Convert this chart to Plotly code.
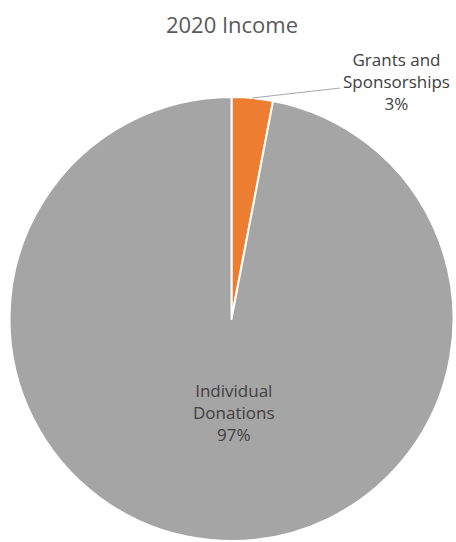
import math
import plotly.graph_objects as go

categories = ["Grants and Sponsorships", "Individual Donations"]
display_labels = ["Grants and<br>Sponsorships", "Individual<br>Donations"]
values = [3, 97]
colors = ["#ED7D31", "#A5A5A5"]

W, H = 456, 542
FONT = "Open Sans, Liberation Sans, sans-serif"
LABEL_COLOR = "#404040"

# pie geometry (paper fractions)
dom_x = [8 / W, 455 / W]
dom_y = [1 - 541 / H, 1 - 97 / H]
cx_px = (dom_x[0] + dom_x[1]) / 2 * W
cy_px = (1 - (dom_y[0] + dom_y[1]) / 2) * H
r_px = min((dom_x[1] - dom_x[0]) * W, (dom_y[1] - dom_y[0]) * H) / 2

fig = go.Figure(go.Pie(
    labels=categories,
    values=values,
    sort=False,
    direction="clockwise",
    rotation=0,
    marker=dict(colors=colors, line=dict(color="white", width=2)),
    textinfo="none",
    domain=dict(x=dom_x, y=dom_y),
    hoverinfo="label+percent",
    showlegend=False,
))

total = sum(values)
pcts = [round(v / total * 100) for v in values]

# outside label for the small slice with a leader line
mid_frac = values[0] / 2 / total
ang = 2 * math.pi * mid_frac
px0 = cx_px + r_px * math.sin(ang)
py0 = cy_px - r_px * math.cos(ang)

fig.add_annotation(
    x=396 / W, y=1 - 82 / H, xref="paper", yref="paper",
    text=f"{display_labels[0]}<br>{pcts[0]}%",
    showarrow=False, align="center", xanchor="center", yanchor="middle",
    font=dict(family=FONT, size=17, color=LABEL_COLOR),
)
fig.add_shape(
    type="line", xref="paper", yref="paper",
    x0=px0 / W, y0=1 - py0 / H, x1=340 / W, y1=1 - 88 / H,
    line=dict(color="#A6A6A6", width=1),
)

# inside label for the large slice
fig.add_annotation(
    x=234 / W, y=1 - 412 / H, xref="paper", yref="paper",
    text=f"{display_labels[1]}<br>{pcts[1]}%",
    showarrow=False, align="center", xanchor="center", yanchor="middle",
    font=dict(family=FONT, size=17, color=LABEL_COLOR),
)

fig.update_layout(
    width=W, height=H,
    margin=dict(l=0, r=0, t=0, b=0),
    paper_bgcolor="white",
    title=dict(text="2020 Income", x=232 / W, xanchor="center", y=1 - 25 / H, yanchor="middle",
               font=dict(family=FONT, size=22, color="#595959")),
)

fig.write_html("out.html", config={"displayModeBar": False},
               post_script="document.body.style.margin='0';")
